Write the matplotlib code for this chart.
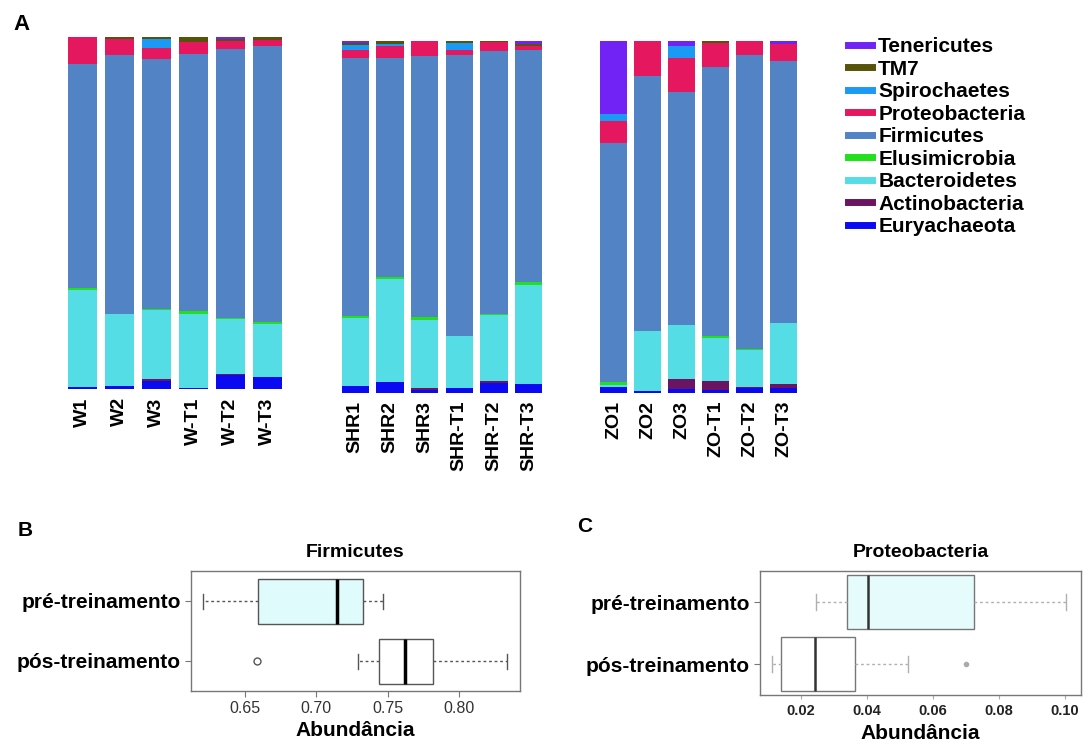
import matplotlib
matplotlib.use("Agg")
import matplotlib.pyplot as plt
from matplotlib.lines import Line2D
import numpy as np

plt.rcParams['font.family'] = ['Liberation Sans', 'DejaVu Sans']

# ---- Panel A: relative abundance per sample ----
samples_w = ["W1", "W2", "W3", "W-T1", "W-T2", "W-T3"]
samples_shr = ["SHR1", "SHR2", "SHR3", "SHR-T1", "SHR-T2", "SHR-T3"]
samples_zo = ["ZO1", "ZO2", "ZO3", "ZO-T1", "ZO-T2", "ZO-T3"]

euryachaeota = [0.006, 0.008, 0.022, 0.003, 0.041, 0.034,
                0.019, 0.029, 0.008, 0.012, 0.028, 0.024,
                0.016, 0.003, 0.010, 0.008, 0.012, 0.012]
actinobacteria = [0.0, 0.0, 0.005, 0.0, 0.003, 0.0,
                  0.0, 0.0, 0.004, 0.0, 0.005, 0.0,
                  0.0, 0.0, 0.029, 0.026, 0.005, 0.012]
bacteroidetes = [0.276, 0.205, 0.197, 0.210, 0.154, 0.150,
                 0.194, 0.295, 0.193, 0.149, 0.187, 0.282,
                 0.006, 0.171, 0.152, 0.121, 0.103, 0.173]
elusimicrobia = [0.005, 0.0, 0.004, 0.010, 0.004, 0.006,
                 0.005, 0.006, 0.009, 0.0, 0.004, 0.008,
                 0.007, 0.0, 0.0, 0.006, 0.004, 0.0]
firmicutes = [0.636, 0.737, 0.710, 0.729, 0.763, 0.785,
              0.733, 0.623, 0.743, 0.799, 0.748, 0.659,
              0.682, 0.727, 0.665, 0.764, 0.836, 0.745]
proteobacteria = [0.077, 0.043, 0.031, 0.035, 0.023, 0.016,
                  0.024, 0.034, 0.043, 0.013, 0.024, 0.014,
                  0.060, 0.100, 0.097, 0.070, 0.040, 0.050]
spirochaetes = [0.0, 0.0, 0.024, 0.0, 0.0, 0.0,
                0.014, 0.004, 0.0, 0.022, 0.0, 0.0,
                0.021, 0.0, 0.034, 0.0, 0.0, 0.0]
tm7 = [0.0, 0.008, 0.008, 0.012, 0.006, 0.009,
       0.005, 0.011, 0.0, 0.004, 0.005, 0.005,
       0.0, 0.0, 0.0, 0.007, 0.0, 0.0]
tenericutes = [0.0, 0.0, 0.0, 0.0, 0.006, 0.0,
               0.007, 0.0, 0.0, 0.0, 0.0, 0.009,
               0.209, 0.0, 0.013, 0.0, 0.0, 0.007]

# stacking order, bottom to top
phyla = ["Euryachaeota", "Actinobacteria", "Bacteroidetes", "Elusimicrobia",
         "Firmicutes", "Proteobacteria", "Spirochaetes", "TM7", "Tenericutes"]
phylum_values = [euryachaeota, actinobacteria, bacteroidetes, elusimicrobia,
                 firmicutes, proteobacteria, spirochaetes, tm7, tenericutes]
phylum_colors = ["#0a0af2", "#6b1462", "#55dde6", "#23e01c",
                 "#5183c5", "#e5175f", "#1a9af5", "#55540a", "#7122f5"]

# ---- Panels B and C: box summaries ----
groups = ["pós-treinamento", "pré-treinamento"]
firm_stats = {
    "pré-treinamento": dict(whislo=0.6206, q1=0.659, med=0.7146, q3=0.733, whishi=0.747, fliers=[]),
    "pós-treinamento": dict(whislo=0.729, q1=0.744, med=0.762, q3=0.782, whishi=0.834, fliers=[0.658]),
}
prot_stats = {
    "pré-treinamento": dict(whislo=0.0245, q1=0.034, med=0.0403, q3=0.0724, whishi=0.1003, fliers=[]),
    "pós-treinamento": dict(whislo=0.0112, q1=0.0139, med=0.0242, q3=0.0364, whishi=0.0524, fliers=[0.070]),
}
firm_ticks = [0.65, 0.70, 0.75, 0.80]
prot_ticks = [0.02, 0.04, 0.06, 0.08, 0.10]

W, H = 1089, 744
fig = plt.figure(figsize=(W / 100, H / 100), dpi=100)


def px_axes(left, top, right, bottom):
    return fig.add_axes([left / W, 1 - bottom / H, (right - left) / W, (bottom - top) / H])


group_boxes = [(64, 37, 286, 389), (338, 41, 546, 392.5), (596.5, 41, 800.5, 392.5)]
group_samples = [samples_w, samples_shr, samples_zo]

for g, (box, names) in enumerate(zip(group_boxes, group_samples)):
    ax = px_axes(*box)
    x = np.arange(len(names))
    base = np.zeros(len(names))
    for vals, col in zip(phylum_values, phylum_colors):
        v = np.array(vals[g * 6:(g + 1) * 6])
        ax.bar(x, v, bottom=base, width=0.78, color=col, linewidth=0)
        base += v
    ax.set_xlim(-0.5, len(names) - 0.5)
    ax.set_ylim(0, 1.0)
    ax.set_xticks(x)
    ax.set_xticklabels(names, rotation=90, fontsize=14, fontweight='bold')
    ax.tick_params(axis='x', length=0, pad=6)
    ax.set_yticks([])
    for s in ax.spines.values():
        s.set_visible(False)

handles = [Line2D([0], [0], color=c, lw=5) for c in phylum_colors[::-1]]
fig.legend(handles, phyla[::-1], loc='upper left', bbox_to_anchor=(848 / W, 1 - 37 / H),
           frameon=False, prop=dict(weight='bold', size=15), handlelength=1.15,
           handletextpad=0.3, labelspacing=0.17, borderaxespad=0, borderpad=0)

fig.text(13 / W, 1 - 24 / H, "A", fontsize=16, fontweight='bold', va='center')
fig.text(18 / W, 1 - 531 / H, "B", fontsize=15, fontweight='bold', va='center')
fig.text(577 / W, 1 - 527 / H, "C", fontsize=15, fontweight='bold', va='center')


def draw_box(ax, stats, fills, edge, wcol, medcol, medlw, width, flier):
    bxp = [dict(label=g, **stats[g]) for g in groups]
    res = ax.bxp(bxp, positions=[1, 2], widths=width, vert=False, patch_artist=True,
                 showfliers=True, capwidths=0.25,
                 boxprops=dict(edgecolor=edge, linewidth=1.0),
                 whiskerprops=dict(color=wcol, linestyle=(0, (2, 2)), linewidth=1.0),
                 capprops=dict(color=wcol, linewidth=1.0),
                 medianprops=dict(color=medcol, linewidth=medlw),
                 flierprops=flier)
    for patch, fc in zip(res['boxes'], fills):
        patch.set_facecolor(fc)
    ax.set_ylim(0.5, 2.5)
    ax.tick_params(axis='y', labelsize=15, length=4, color='#777777')
    for lab in ax.get_yticklabels():
        lab.set_fontweight('bold')
    for s in ax.spines.values():
        s.set_color('#777777')
        s.set_linewidth(1.0)
    return res


# Panel B
axB = px_axes(191, 571, 520, 691)
draw_box(axB, firm_stats, ["white", "#e0fbfb"], '#555555', '#555555', 'black', 2.5, 0.75,
         dict(marker='o', markersize=5, markerfacecolor='none', markeredgecolor='#555555'))
axB.set_xlim(0.612, 0.843)
axB.set_xticks(firm_ticks)
axB.set_xticklabels([f"{t:.2f}" for t in firm_ticks], fontsize=11.5, color='#333333')
axB.tick_params(axis='x', length=4, color='#777777')
axB.set_title("Firmicutes", fontsize=14, fontweight='bold', pad=10)
axB.set_xlabel("Abundância", fontsize=15, fontweight='bold', labelpad=3)

# Panel C
axC = px_axes(760, 571, 1081, 695)
draw_box(axC, prot_stats, ["white", "#e6fcfc"], '#777777', '#b0b0b0', '#333333', 1.8, 0.88,
         dict(marker='o', markersize=3, markerfacecolor='#aaaaaa', markeredgecolor='#aaaaaa'))
axC.set_xlim(0.0076, 0.1048)
axC.set_xticks(prot_ticks)
axC.set_xticklabels([f"{t:.2f}" for t in prot_ticks], fontsize=10.5, fontweight='bold', color='#222222')
axC.tick_params(axis='x', length=3, color='#aaaaaa')
axC.set_title("Proteobacteria", fontsize=14, fontweight='bold', pad=10)
axC.set_xlabel("Abundância", fontsize=15, fontweight='bold', labelpad=4)

fig.savefig("out.png", dpi=100)
